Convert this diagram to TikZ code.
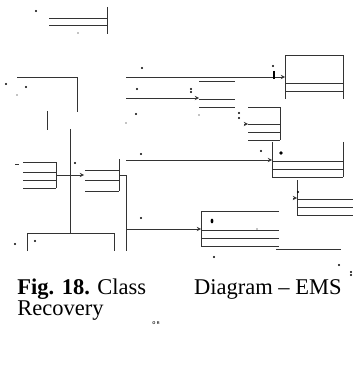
\documentclass[tikz,border=0pt]{standalone}
\usepackage{fontspec}
\setmainfont{Liberation Serif}
\begin{document}
\begin{tikzpicture}[x=1pt, y=-1pt, >=stealth, line width=0.9pt, color=black!80,
	every node/.style={inner sep=0pt, text=black, font=\fontsize{22.5}{27}\selectfont}]
	\useasboundingbox (0,0) rectangle (353,374);
	
	% 1. 残留线段 (顶部与左上)
	\draw (49,18) -- (107,18);
	\draw (49,25) -- (107,25);
	\draw (107,7) -- (107,34);
	\draw (17,77) -- (77,77) -- (77,112);
	\draw (47,111) -- (47,130);
	\draw (70,129) -- (70,233);
	\foreach \y in {81,99,107} \draw (199,\y) -- (235,\y);
	
	% 2. 类框 (开口矩形与分隔线)
	\draw (285,99) -- (285,55) -- (343,55) -- (343,99);
	\foreach \y in {83,91} \draw (285,\y) -- (343,\y);
	\draw (248,107) -- (280,107) -- (280,140);
	\foreach \y in {124,132,140} \draw (248,\y) -- (280,\y);
	\draw (272,142) -- (272,177);
	\draw (343,142) -- (343,177);
	\foreach \y in {161,169,177} \draw (272,\y) -- (343,\y);
	\draw (297,180) -- (297,215);
	\foreach \y in {199,207,215} \draw (297,\y) -- (353,\y);
	\draw (279,211) -- (201,211) -- (201,246);
	\foreach \y in {230,238,246} \draw (201,\y) -- (279,\y);
	\draw (276,249) -- (341,249);
	\foreach \y in {162,172,180,188} \draw (23,\y) -- (56,\y);
	\draw (56,162) -- (56,188);
	\draw (119,159) -- (119,191);
	\foreach \y in {170,180,191} \draw (85,\y) -- (119,\y);
	\draw (27,251) -- (27,233) -- (114,233) -- (114,251);
	
	% 3. 连线与箭头
	\coordinate (inA) at (285,77);
	\coordinate (inB) at (199,98);
	\coordinate (inC) at (272,160);
	\coordinate (inE) at (201,229);
	\coordinate (inG) at (84,175);
	\coordinate (outF) at (56,175);
	\coordinate (outG) at (119,175);
	\draw[->] (126,77) -- (inA);
	\draw[->] (126,98) -- (inB);
	\draw[->] (126,160) -- (inC);
	\draw[->] (outF) -- (inG);
	\draw (outG) -- (126,175) -- (126,251);
	\draw[->] (126,229) -- (inE);
	\draw[->] (244,124) -- (248,124);
	\draw[->] (293,198) -- (297,198);
	
	% 4. 散落的小点
	\foreach \x/\y in {36/11, 6/84, 26/87, 142/68, 137/89, 191/89, 191/92, 136/114,
		239/113, 239/118, 273/66, 261/151, 298/192, 214/257, 339/265, 351/272,
		351/275, 75/163, 141/154, 141/218, 15/244, 35/241}
		\fill[black] (\x,\y) circle (1.2);
	\foreach \x/\y in {78/33, 17/95, 199/115, 126/123, 257/229}
		\fill[black] (\x,\y) circle (0.6);
	\draw[black, line width=2.6pt] (274,71) -- (274,79);
	\fill[black] (281,153) circle (1.8);
	\fill[black] (212,221) ellipse (1.4 and 2.4);
	\draw[thin] (15,164) -- (19,164);
	
	% 5. 图题
	\node[anchor=base west] (fig) at (17,294) {\textbf{Fig. 18.} Class};
	\node[anchor=base east] (dia) at (342,294) {Diagram – EMS};
	\node[anchor=base west] (rec) at (17,315) {Recovery};
	\node[font=\sffamily\bfseries\fontsize{4}{4}\selectfont] (or) at (156,323) {O\,\,R};
\end{tikzpicture}
\end{document}
